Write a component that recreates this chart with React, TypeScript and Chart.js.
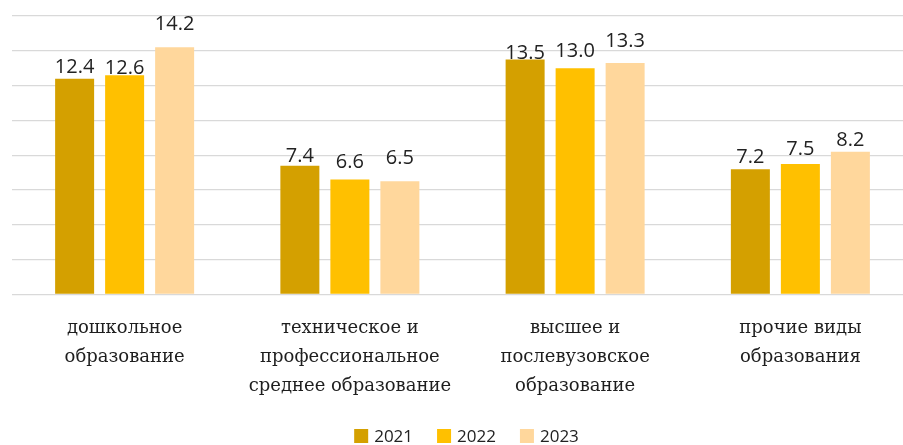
import React, { useEffect, useRef } from "react";
import { Chart, registerables } from "chart.js";

Chart.register(...registerables);

const categories: string[][] = [
  ["дошкольное", "образование"],
  ["техническое и", "профессиональное", "среднее образование"],
  ["высшее и", "послевузовское", "образование"],
  ["прочие виды", "образования"],
];
const seriesNames = ["2021", "2022", "2023"];
const values2021 = [12.4, 7.4, 13.5, 7.2];
const values2022 = [12.6, 6.6, 13.0, 7.5];
const values2023 = [14.2, 6.5, 13.3, 8.2];
const seriesColors = ["#D4A000", "#FFC000", "#FFD79C"];
const yMin = 0;
const yMax = 16;
const yStep = 2;

// style: gap (px) between each bar top and its value label baseline, per series
const labelGaps = [
  [6, 4, 1, 6],
  [1, 12, 11, 9],
  [17, 17, 16, 6],
];

const CANVAS_W = 913;
const CANVAS_H = 445;

const valueLabelPlugin = {
  id: "valueLabels",
  afterDatasetsDraw(chart: any) {
    const ctx = chart.ctx;
    ctx.save();
    ctx.font = "20px 'Open Sans'";
    ctx.fillStyle = "#222222";
    ctx.textAlign = "center";
    ctx.textBaseline = "alphabetic";
    chart.data.datasets.forEach((ds: any, i: number) => {
      const meta = chart.getDatasetMeta(i);
      meta.data.forEach((bar: any, j: number) => {
        const v = ds.data[j];
        ctx.fillText(Number(v).toFixed(1), bar.x, bar.y - labelGaps[i][j]);
      });
    });
    ctx.restore();
  },
};

const customLegendPlugin = {
  id: "customLegend",
  afterDraw(chart: any) {
    const ctx = chart.ctx;
    ctx.save();
    ctx.font = "17px 'Open Sans'";
    const box = 14;
    const boxGap = 6;
    const itemGap = 24;
    const widths = chart.data.datasets.map(
      (ds: any) => box + boxGap + ctx.measureText(ds.label).width
    );
    const total =
      widths.reduce((a: number, b: number) => a + b, 0) +
      itemGap * (widths.length - 1);
    const center = (chart.chartArea.left + chart.chartArea.right) / 2 + 4;
    let x = center - total / 2;
    const cy = 436;
    chart.data.datasets.forEach((ds: any, i: number) => {
      ctx.fillStyle = ds.backgroundColor;
      ctx.fillRect(x, cy - box / 2, box, box);
      ctx.fillStyle = "#222222";
      ctx.textAlign = "left";
      ctx.textBaseline = "middle";
      ctx.fillText(ds.label, x + box + boxGap, cy + 1);
      x += widths[i] + itemGap;
    });
    ctx.restore();
  },
};

export default function App() {
  const canvasRef = useRef<HTMLCanvasElement | null>(null);

  useEffect(() => {
    if (!canvasRef.current) return;
    const seriesData = [values2021, values2022, values2023];
    const chart = new Chart(canvasRef.current, {
      type: "bar",
      data: {
        labels: categories,
        datasets: seriesNames.map((name, i) => ({
          label: name,
          data: seriesData[i],
          backgroundColor: seriesColors[i],
          borderWidth: 0,
          categoryPercentage: 0.666,
          barPercentage: 0.78,
        })),
      },
      options: {
        responsive: false,
        animation: false,
        devicePixelRatio: 1,
        layout: { padding: { left: 12, right: 0, top: 16, bottom: 0 } },
        plugins: {
          legend: { display: false },
          tooltip: { enabled: false },
        },
        scales: {
          x: {
            grid: { display: false },
            border: { display: false },
            ticks: {
              autoSkip: false,
              maxRotation: 0,
              minRotation: 0,
              padding: 11,
              color: "#1e1e1e",
              font: { family: "'DejaVu Serif'", size: 18, lineHeight: "29px" },
            },
            afterFit: (scale: any) => {
              scale.height = CANVAS_H - 294.5;
            },
          },
          y: {
            min: yMin,
            max: yMax,
            ticks: { display: false, stepSize: yStep },
            grid: { color: "#D9D9D9", lineWidth: 1.3, drawTicks: false },
            border: { display: false },
            afterFit: (scale: any) => {
              scale.width = 0;
            },
          },
        },
      },
      plugins: [valueLabelPlugin, customLegendPlugin],
    });
    return () => chart.destroy();
  }, []);

  return (
    <div
      style={{
        position: "fixed",
        left: 0,
        top: 0,
        width: 903,
        height: 445,
        overflow: "hidden",
        background: "#ffffff",
      }}
    >
      <canvas
        ref={canvasRef}
        width={CANVAS_W}
        height={CANVAS_H}
        style={{ width: CANVAS_W, height: CANVAS_H, display: "block" }}
      />
    </div>
  );
}
